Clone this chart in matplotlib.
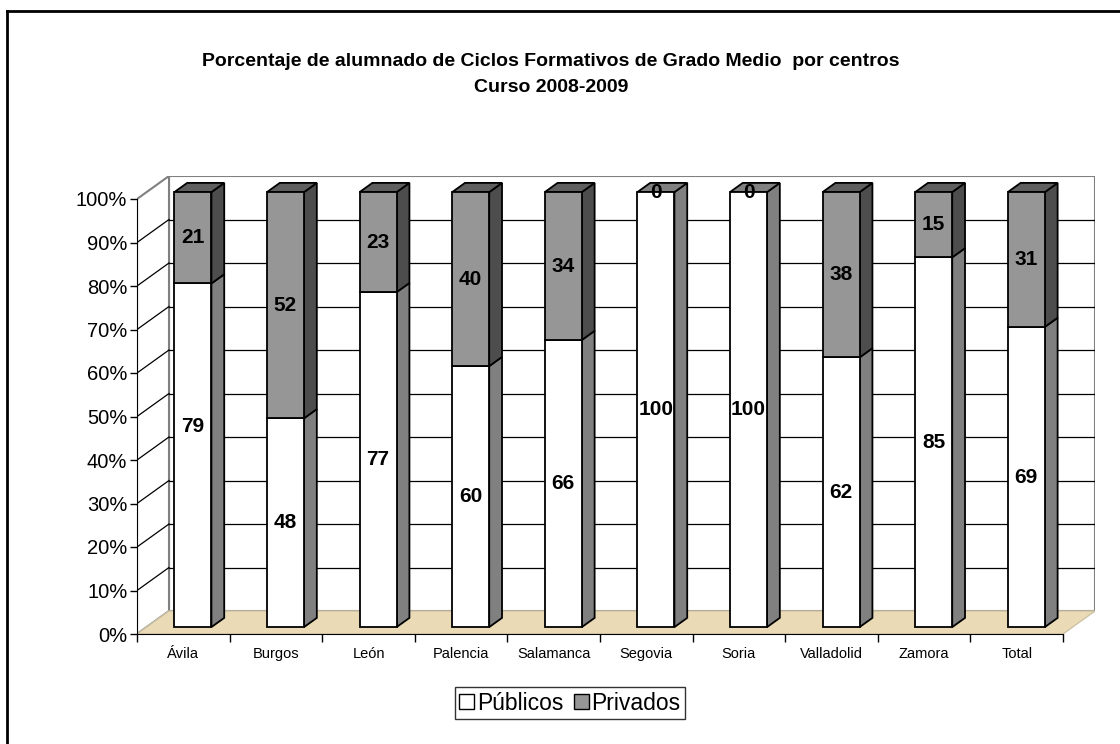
import matplotlib.pyplot as plt
from matplotlib.patches import Polygon
from matplotlib.lines import Line2D

# Datos del grafico
centros = ['Ávila', 'Burgos', 'León', 'Palencia', 'Salamanca', 'Segovia',
           'Soria', 'Valladolid', 'Zamora', 'Total']
publicos = [79, 48, 77, 60, 66, 100, 100, 62, 85, 69]
privados = [21, 52, 23, 40, 34, 0, 0, 38, 15, 31]
ticks_y = [0, 10, 20, 30, 40, 50, 60, 70, 80, 90, 100]

plt.rcParams['font.family'] = ['Liberation Sans', 'DejaVu Sans']

W, H = 1120, 744
fig = plt.figure(figsize=(W / 100, H / 100), dpi=100)

# profundidad 3D en unidades de datos
n = len(centros)
D = 32 / 92.6          # desplazamiento x de la pared del fondo
DY = 23 / 4.35         # desplazamiento y de la pared del fondo
ymax = 100

# ejes colocados en pixeles
left, right, bottom, top = 137, 1095, H - 634, H - 176
ax = fig.add_axes([left / W, bottom / H, (right - left) / W, (top - bottom) / H])
ax.set_xlim(0, n + D)
ax.set_ylim(0, ymax + DY)
ax.patch.set_visible(False)

gris = '#808080'

# pared del fondo, pared lateral y suelo
ax.add_patch(Polygon([(D, DY), (n + D, DY), (n + D, ymax + DY), (D, ymax + DY)],
                     closed=True, facecolor='white', edgecolor=gris, lw=1.5, zorder=1))
ax.add_patch(Polygon([(0, 0), (D, DY), (D, ymax + DY), (0, ymax)],
                     closed=True, facecolor='white', edgecolor=gris, lw=1.5, zorder=1))
ax.add_patch(Polygon([(0, 0), (n, 0), (n + D, DY), (D, DY)],
                     closed=True, facecolor='#EADBB6', edgecolor='#cfc3a5', lw=1, zorder=2))

# lineas de division
for v in ticks_y[1:-1]:
    ax.plot([D, n + D], [v + DY, v + DY], color='black', lw=0.9, zorder=2)
    ax.plot([0, D], [v, v + DY], color='black', lw=0.9, zorder=2)

# barras apiladas con caras 3D
ancho = 0.4
f0 = 0.3 * D
fy0 = 0.3 * DY
bd = 0.4 * D
bdy = 0.4 * DY
colores = {'pub': ('white', '#808080', '#808080'),
           'priv': ('#969696', '#4D4D4D', '#5F5F5F')}

for i in range(n):
    x0 = i + 0.5 - ancho / 2 + f0
    x1 = x0 + ancho
    base = fy0
    segmentos = [('pub', publicos[i]), ('priv', privados[i])]
    ultimo = max(k for k, (_, v) in enumerate(segmentos) if v > 0)
    for k, (tipo, v) in enumerate(segmentos):
        if v <= 0:
            continue
        frente, lado, tapa = colores[tipo]
        y0, y1 = base, base + v
        ax.add_patch(Polygon([(x0, y0), (x1, y0), (x1, y1), (x0, y1)], closed=True,
                             facecolor=frente, edgecolor='black', lw=1.3, zorder=5))
        ax.add_patch(Polygon([(x1, y0), (x1 + bd, y0 + bdy), (x1 + bd, y1 + bdy), (x1, y1)],
                             closed=True, facecolor=lado, edgecolor='black', lw=1.3, zorder=4))
        if k == ultimo:
            ax.add_patch(Polygon([(x0, y1), (x1, y1), (x1 + bd, y1 + bdy), (x0 + bd, y1 + bdy)],
                                 closed=True, facecolor=tapa, edgecolor='black', lw=1.3, zorder=4))
        base = y1

    # etiquetas de datos
    xc = (x0 + x1) / 2
    pos_pub = fy0 + publicos[i] / 2
    if i == 0:
        pos_pub = fy0 + 46
    ax.text(xc, pos_pub, str(publicos[i]), ha='center', va='center',
            fontsize=15, fontweight='bold', zorder=7)
    ax.text(xc, fy0 + publicos[i] + privados[i] / 2, str(privados[i]), ha='center',
            va='center', fontsize=15, fontweight='bold', zorder=7)

# ejes
for s in ['top', 'right']:
    ax.spines[s].set_visible(False)
ax.spines['left'].set_bounds(0, ymax)
ax.spines['bottom'].set_bounds(0, n)
ax.spines['left'].set_zorder(3)
ax.spines['bottom'].set_zorder(3)

ax.set_yticks(ticks_y)
ax.set_yticklabels([f'{v}%' for v in ticks_y])
ax.tick_params(axis='y', direction='out', length=5, width=1, labelsize=14.5, pad=2)

ax.set_xticks(range(n + 1))
ax.set_xticklabels([])
ax.set_xticks([i + 0.5 for i in range(n)], minor=True)
ax.set_xticklabels(centros, minor=True)
ax.tick_params(axis='x', which='major', direction='out', length=6, width=1)
ax.tick_params(axis='x', which='minor', length=0, labelsize=10.5, pad=17)
for lab in ax.get_xticklabels(minor=True):
    lab.set_verticalalignment('baseline')

# titulo
fig.text(551 / W, 1 - 61 / H, 'Porcentaje de alumnado de Ciclos Formativos de Grado Medio  por centros',
         ha='center', va='center', fontsize=14, fontweight='bold')
fig.text(551 / W, 1 - 87 / H, 'Curso 2008-2009', ha='center', va='center',
         fontsize=14, fontweight='bold')

# leyenda
h1 = plt.Rectangle((0, 0), 1, 1, facecolor='white', edgecolor='black', lw=1)
h2 = plt.Rectangle((0, 0), 1, 1, facecolor='#969696', edgecolor='black', lw=1)
leg = fig.legend([h1, h2], ['Públicos', 'Privados'], loc='center',
                 bbox_to_anchor=(570 / W, 41 / H), ncol=2, fontsize=16.5,
                 frameon=True, fancybox=False, edgecolor='black',
                 handlelength=0.65, handleheight=0.65, handletextpad=0.12,
                 columnspacing=0.45, borderpad=0.2, borderaxespad=0)
leg.get_frame().set_linewidth(1)

# borde del grafico
fig.add_artist(Line2D([7 / W, 7 / W], [0, 1 - 11 / H], color='black', lw=2))
fig.add_artist(Line2D([7 / W, 1], [1 - 11 / H, 1 - 11 / H], color='black', lw=2))

plt.savefig('out.png', dpi=100)
plt.close()
